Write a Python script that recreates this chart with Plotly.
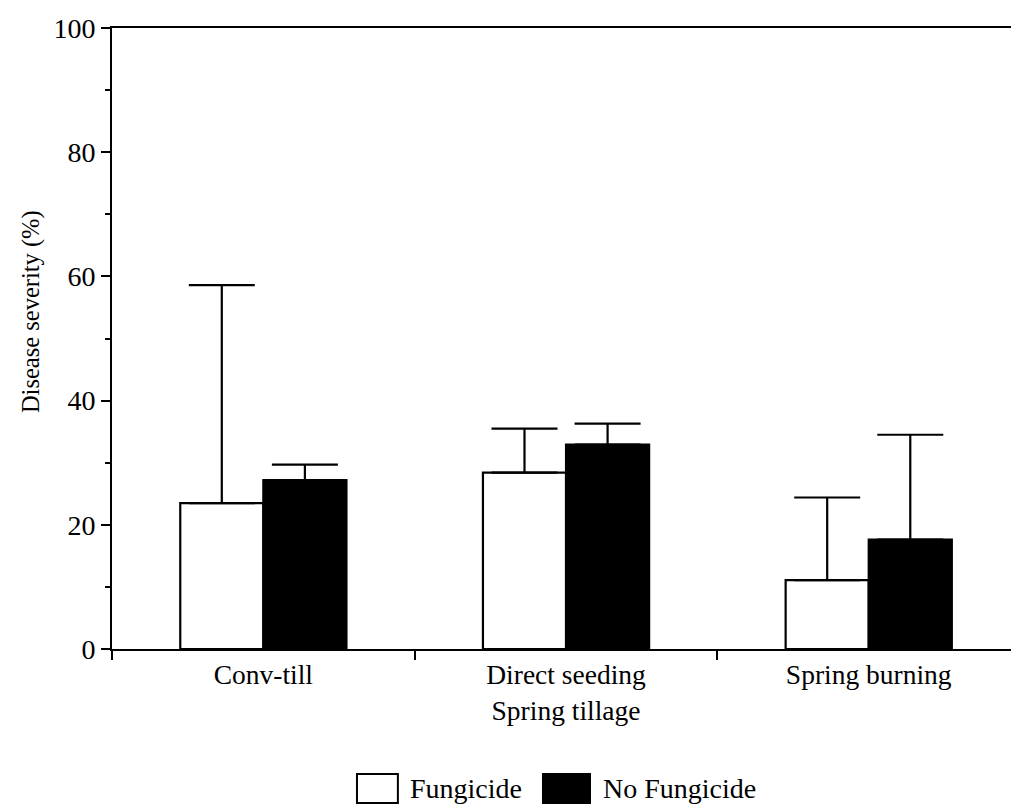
import plotly.graph_objects as go

# Tillage systems and treatment means with upper error-bar lengths
categories = ["Conv-till", "Direct seeding<br>Spring tillage", "Spring burning"]
series_names = ["Fungicide", "No Fungicide"]
fungicide = [23.5, 28.4, 11.1]
fungicide_err = [35.1, 7.1, 13.3]
no_fungicide = [27.2, 32.9, 17.6]
no_fungicide_err = [2.5, 3.4, 16.9]
y_ticks = [0, 20, 40, 60, 80, 100]
y_title = "Disease severity (%)"

FONT = "Liberation Serif, Times New Roman, serif"
INK = "#000000"

fig = go.Figure()

for name, vals, errs, fill in [
    (series_names[0], fungicide, fungicide_err, "#ffffff"),
    (series_names[1], no_fungicide, no_fungicide_err, INK),
]:
    fig.add_trace(go.Bar(
        name=name,
        x=categories,
        y=vals,
        marker=dict(color=fill, line=dict(color=INK, width=2.2)),
        error_y=dict(type="data", symmetric=False, array=errs,
                     arrayminus=[0] * len(errs),
                     color=INK, thickness=2.2, width=33),
        showlegend=False,
    ))

fig.update_layout(
    width=1011, height=806,
    margin=dict(l=112, r=0, t=28, b=157),
    paper_bgcolor="#ffffff", plot_bgcolor="#ffffff",
    barmode="group", bargap=0.451, bargroupgap=0,
    font=dict(family=FONT, color=INK, size=27),
    xaxis=dict(
        type="category",
        range=[-0.5, 2.47],
        showline=True, linecolor=INK, linewidth=2,
        mirror=True,
        ticks="outside", tickson="boundaries", ticklen=9,
        tickcolor=INK, tickwidth=2,
        tickfont=dict(size=27.5, family=FONT),
        showgrid=False, zeroline=False,
    ),
    yaxis=dict(
        range=[0, 100],
        tickvals=y_ticks,
        showline=True, linecolor=INK, linewidth=2,
        ticks="outside", ticklen=9, tickcolor=INK, tickwidth=2,
        minor=dict(dtick=10, ticks="outside", ticklen=5,
                   tickcolor=INK, tickwidth=2, showgrid=False),
        tickfont=dict(size=28, family=FONT),
        showgrid=False, zeroline=False,
    ),
)

# Y-axis title placed slightly above the plot's vertical centre
fig.add_annotation(xref="paper", yref="paper", x=-0.090, y=0.5427,
                   xanchor="center", yanchor="middle", textangle=-90,
                   showarrow=False, text=y_title,
                   font=dict(size=24.5, family=FONT, color=INK))

# Legend drawn as large swatches under the plot
legend_items = [
    (series_names[0], "#ffffff", 0.2725, 0.318, 0.329),
    (series_names[1], INK, 0.4794, 0.5317, 0.544),
]
for label, fill, x0, x1, tx in legend_items:
    fig.add_shape(type="rect", xref="paper", yref="paper",
                  x0=x0, x1=x1, y0=-0.248, y1=-0.2013,
                  fillcolor=fill, line=dict(color=INK, width=2))
    fig.add_annotation(xref="paper", yref="paper", x=tx, y=-0.2254,
                       xanchor="left", yanchor="middle", showarrow=False,
                       text=label, font=dict(size=28, family=FONT, color=INK))

fig.write_html("out.html")
